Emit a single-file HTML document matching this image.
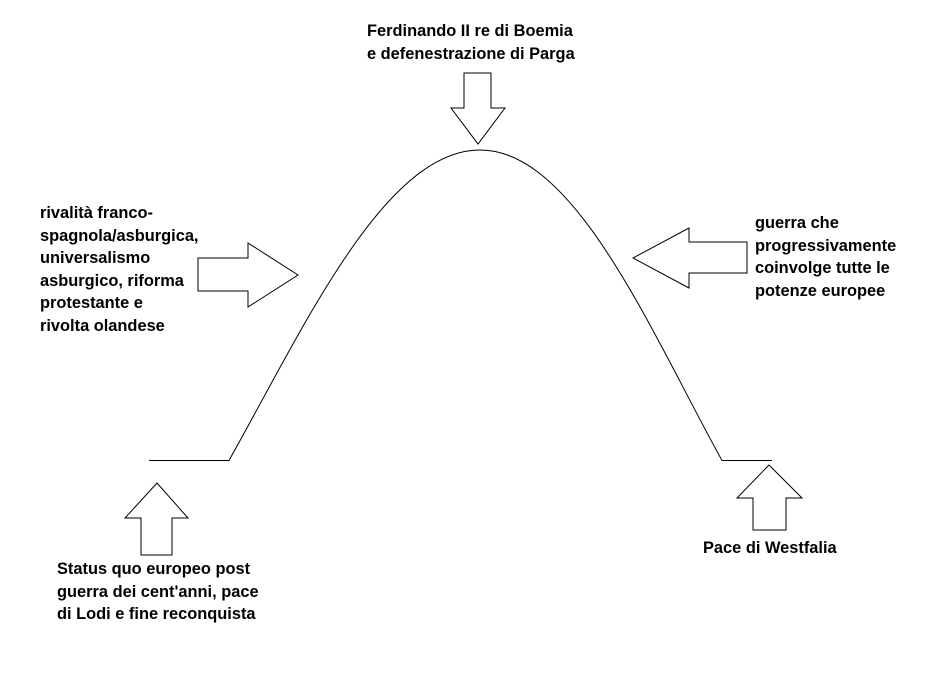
<!DOCTYPE html>
<html><head><meta charset="utf-8"><style>
body{margin:0;background:#fff;width:928px;height:683px;overflow:hidden;position:relative;font-family:"Liberation Sans",sans-serif;font-weight:bold;font-size:16.4px;color:#000}
.t{position:absolute;line-height:22.5px;white-space:nowrap}
svg{position:absolute;left:0;top:0}
</style></head><body>
<svg width="928" height="683" fill="none" stroke="#000" stroke-width="1">
<path d="M149,460.5 H229 C305,325 385,150 480,150 C575,150 650,330 722,460.5 H772"/>
<polygon points="198,258 248,258 248,243 298,275 248,307 248,291 198,291" fill="#fff"/>
<polygon points="747,242 689,242 689,228 633,258 689,288 689,273 747,273" fill="#fff"/>
<polygon points="141,555 141,518 125,518 157,483 188,518 172,518 172,555" fill="#fff"/>
<polygon points="753,530 753,498 737,498 769,465 802,498 786,498 786,530" fill="#fff"/>
<polygon points="464,73 491,73 491,108 505,108 478,144 451,108 464,108" fill="#fff"/>
</svg>
<div class="t" style="left:367px;top:20px">Ferdinando II re di Boemia<br>e defenestrazione di Parga</div>
<div class="t" style="left:40px;top:202px">rivalità franco-<br>spagnola/asburgica,<br>universalismo<br>asburgico, riforma<br>protestante e<br>rivolta olandese</div>
<div class="t" style="left:755px;top:212px">guerra che<br>progressivamente<br>coinvolge tutte le<br>potenze europee</div>
<div class="t" style="left:57px;top:558px">Status quo europeo post<br>guerra dei cent'anni, pace<br>di Lodi e fine reconquista</div>
<div class="t" style="left:703px;top:537px">Pace di Westfalia</div>
</body></html>
